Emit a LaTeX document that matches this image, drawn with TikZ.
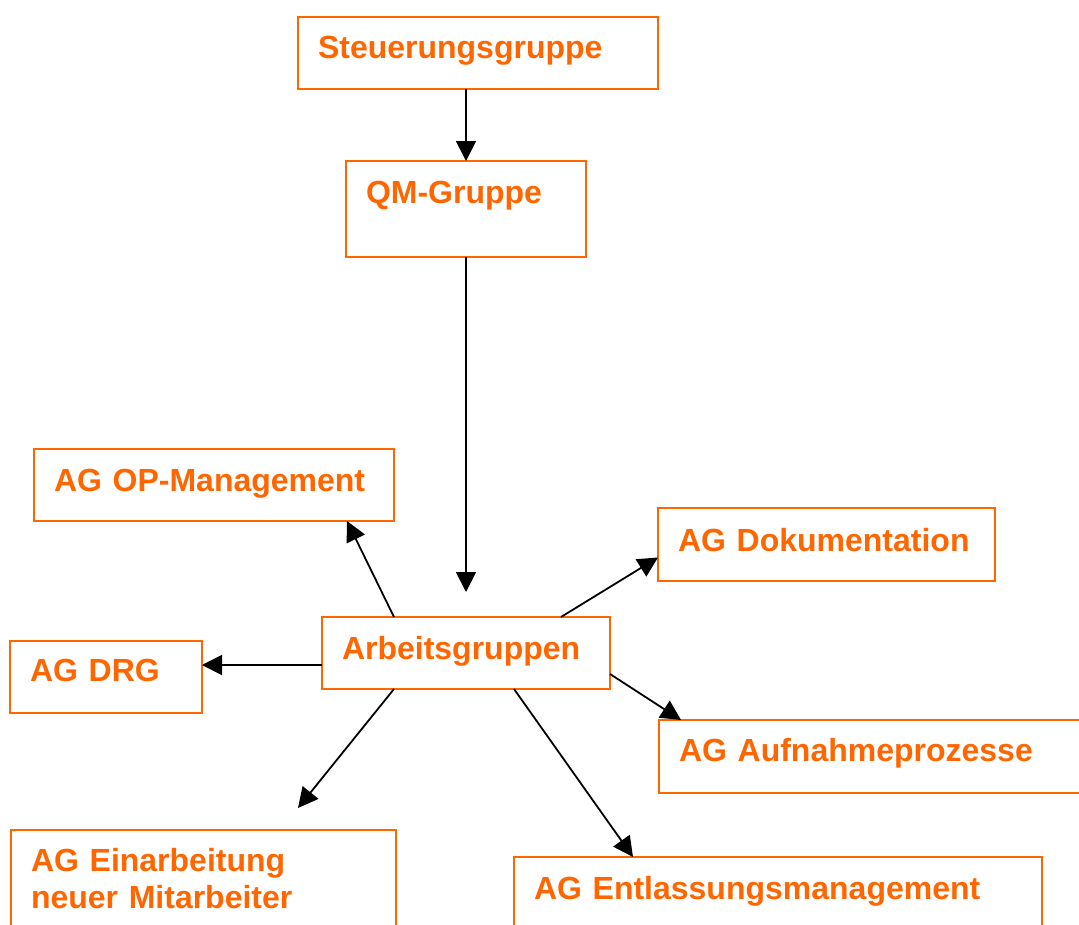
\documentclass[tikz,border=0pt]{standalone}
\usepackage{fontspec}
\setmainfont{Liberation Sans}
\usetikzlibrary{arrows.meta}
\definecolor{agorange}{RGB}{255,102,0}
\tikzset{agbox/.style = {draw=agorange, line width=2pt, text=agorange,
                         font=\fontsize{32}{37}\selectfont\bfseries,
                         anchor=north west, align=left, outer sep=0pt,
                         inner xsep=20pt, inner ysep=18pt}}
\tikzset{link/.style = {line width=1.8pt,
                        -{Triangle[length=20pt,width=20pt]}}}

\begin{document}
\begin{tikzpicture}[x=1pt, y=-1pt]
          \clip (0,0) rectangle (1079,924);
          \node[agbox, text width=320pt, text height=23pt, text depth=13pt]
            (steuer) at (298,17) {Steuerungsgruppe};
          \node[agbox, text width=200pt, text height=24pt, text depth=36pt]
            (qm) at (346,161) {QM-Gruppe};
          \node[agbox, text width=320pt, text height=24pt, text depth=12pt]
            (op) at (34,449) {AG OP-Management};
          \node[agbox, text width=297pt, text height=25pt, text depth=12pt]
            (doku) at (658,508) {AG Dokumentation};
          \node[agbox, text width=248pt, text height=24pt, text depth=12pt]
            (arb) at (322,617) {Arbeitsgruppen};
          \node[agbox, text width=152pt, text height=22pt, text depth=14pt]
            (drg) at (10,641) {AG DRG};
          \node[agbox, text width=400pt, text height=23pt, text depth=14pt]
            (auf) at (659,720) {AG Aufnahmeprozesse};
          \node[agbox, text width=345pt, text height=23pt, text depth=61pt]
            (ein) at (11,830) {AG Einarbeitung\\neuer Mitarbeiter};
          \node[agbox, text width=488pt, text height=24pt, text depth=40pt]
            (ent) at (514,857) {AG Entlassungsmanagement};
          \coordinate (qmend) at (466,592);   % arrow stops above the box
          \coordinate (einend) at (298,808);  % arrow stops above the box
          \draw[link] ([xshift=168pt]steuer.south west) -- (qm.north);
          \draw[link] (qm.south) -- (qmend);
          \draw[link] ([xshift=72pt]arb.north west) -- ([xshift=313pt]op.south west);
          \draw[link] ([yshift=-12pt]arb.west) -- ([yshift=12pt]drg.east);
          \draw[link] ([xshift=72pt]arb.south west) -- (einend);
          \draw[link] ([xshift=239pt]arb.north west) -- ([yshift=-13pt]doku.west);
          \draw[link] ([yshift=-21pt]arb.east) -- ([xshift=22pt]auf.north west);
          \draw[link] ([xshift=192pt]arb.south west) -- ([xshift=119pt]ent.north west);
        \end{tikzpicture}
\end{document}
